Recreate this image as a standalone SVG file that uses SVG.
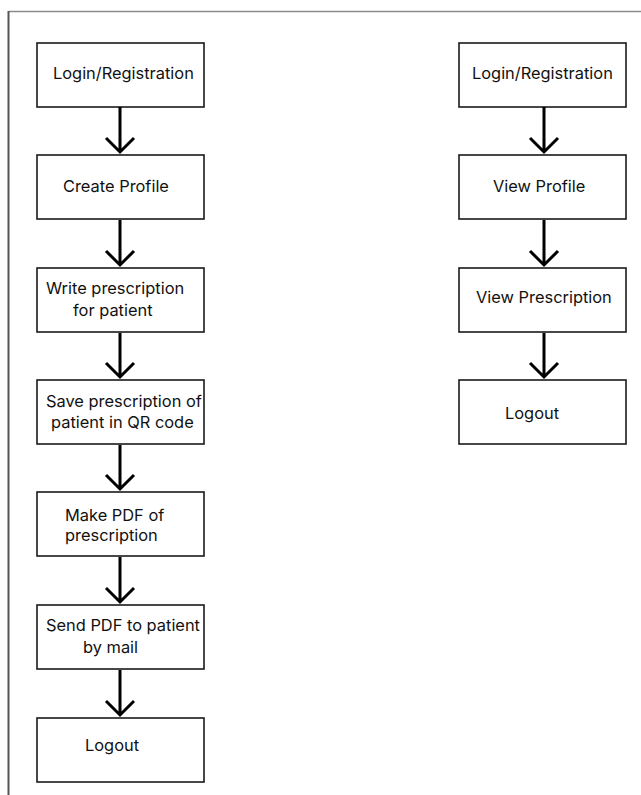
<svg xmlns="http://www.w3.org/2000/svg" width="641" height="795" viewBox="0 0 641 795">
<style>
.box{fill:#fff;stroke:#1a1a1a;stroke-width:1.6}
.t{font-family:Inter,"Noto Sans","Liberation Sans",sans-serif;font-size:16.4px;fill:#111}
.c{fill:none;stroke:#000;stroke-width:3}
</style>
<rect width="641" height="795" fill="#fff"/>
<g id="frame">
<line x1="9" y1="11.5" x2="641" y2="11.5" stroke="#8a8a8a" stroke-width="1.5"/>
<line x1="8.5" y1="11" x2="8.5" y2="795" stroke="#555" stroke-width="2"/>
</g>
<g id="n1"><rect class="box" x="37" y="43" width="167" height="64"/><text class="t" x="53" y="79">Login/Registration</text></g>
<g id="n2"><rect class="box" x="37" y="155" width="167" height="64"/><text class="t" x="63" y="192">Create Profile</text></g>
<g id="n3"><rect class="box" x="37" y="268" width="167" height="64"/><text class="t" x="46" y="294">Write prescription</text><text class="t" x="73" y="316">for patient</text></g>
<g id="n4"><rect class="box" x="37" y="380" width="167" height="64"/><text class="t" x="46" y="407">Save prescription of</text><text class="t" x="51" y="428">patient in QR code</text></g>
<g id="n5"><rect class="box" x="37" y="492" width="167" height="64"/><text class="t" x="65" y="521">Make PDF of</text><text class="t" x="65" y="541">prescription</text></g>
<g id="n6"><rect class="box" x="37" y="605" width="167" height="64"/><text class="t" x="46" y="631">Send PDF to patient</text><text class="t" x="83" y="653">by mail</text></g>
<g id="n7"><rect class="box" x="37" y="718" width="167" height="64"/><text class="t" x="85" y="751">Logout</text></g>
<g id="m1"><rect class="box" x="459" y="43" width="167" height="64"/><text class="t" x="472" y="79">Login/Registration</text></g>
<g id="m2"><rect class="box" x="459" y="155" width="167" height="64"/><text class="t" x="493" y="192">View Profile</text></g>
<g id="m3"><rect class="box" x="459" y="268" width="167" height="64"/><text class="t" x="476" y="303">View Prescription</text></g>
<g id="m4"><rect class="box" x="459" y="380" width="167" height="64"/><text class="t" x="505" y="419">Logout</text></g>
<g id="connectors">
<path class="c" d="M120 107V152M106 138L120 152L134 138"/>
<path class="c" d="M120 220V265M106 251L120 265L134 251"/>
<path class="c" d="M120 333V377M106 363L120 377L134 363"/>
<path class="c" d="M120 445V489M106 475L120 489L134 475"/>
<path class="c" d="M120 557V602M106 588L120 602L134 588"/>
<path class="c" d="M120 670V715M106 701L120 715L134 701"/>
<path class="c" d="M544 107V152M530 138L544 152L558 138"/>
<path class="c" d="M544 220V265M530 251L544 265L558 251"/>
<path class="c" d="M544 333V377M530 363L544 377L558 363"/>
</g>
</svg>
